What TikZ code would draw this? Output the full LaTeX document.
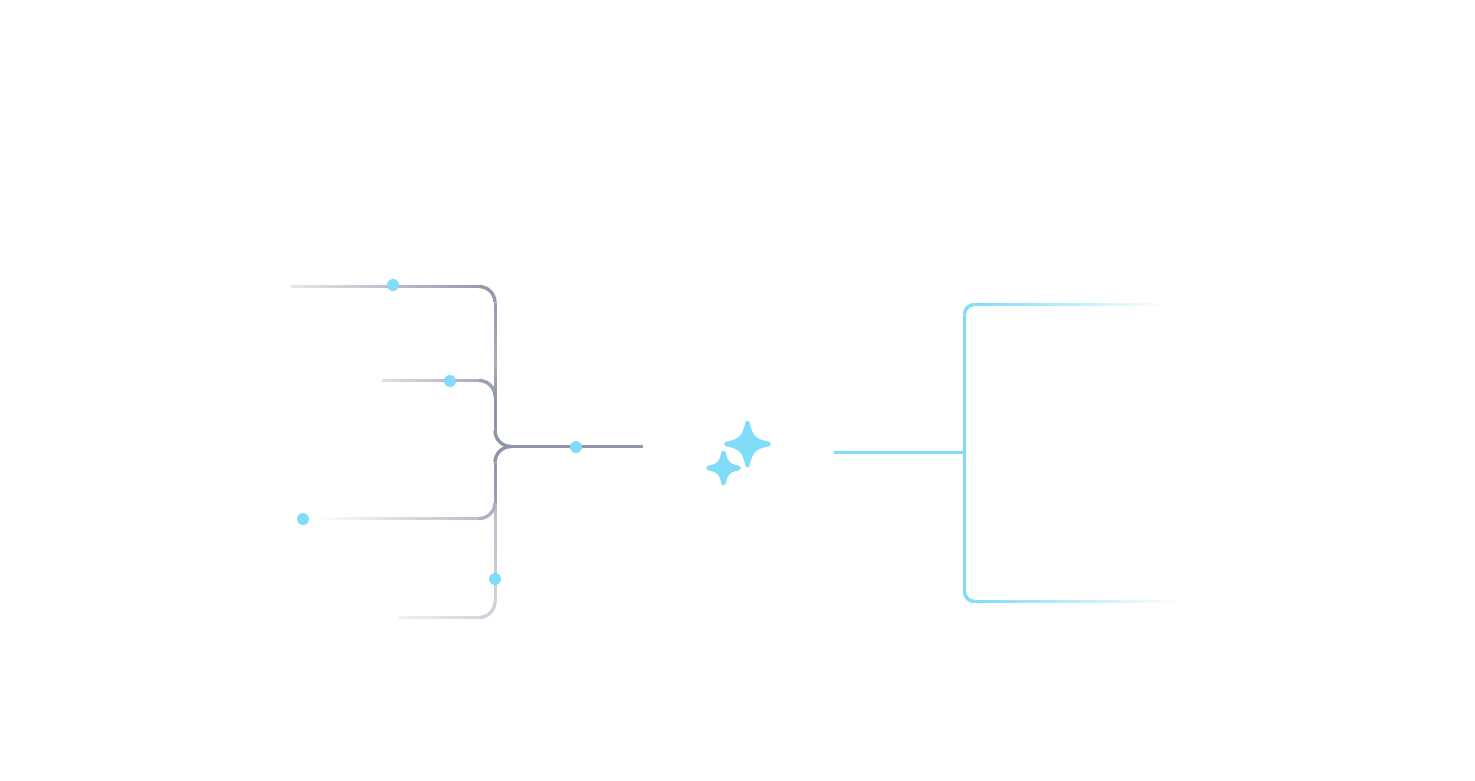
\documentclass[tikz,border=0pt]{standalone}
\definecolor{dotc}{HTML}{80DCF7}
\definecolor{dark}{HTML}{8F95A8}
\definecolor{aA}{HTML}{E6E7EB}
\definecolor{aB}{HTML}{969BAE}
\definecolor{aC}{HTML}{A9ADBC}
\definecolor{bA}{HTML}{E0E1E6}
\definecolor{bB}{HTML}{A8ABBB}
\definecolor{bC}{HTML}{9A9FB1}
\definecolor{cA}{HTML}{9CA1B3}
\definecolor{cB}{HTML}{AEB1C0}
\definecolor{cC}{HTML}{BABDCA}
\definecolor{dA}{HTML}{B9BCCA}
\definecolor{dB}{HTML}{D0D2DB}
\definecolor{dC}{HTML}{D5D6DE}
\definecolor{dD}{HTML}{F0F0F3}
\tikzset{
  dotn/.style={circle,fill=dotc,draw=none,minimum size=12pt,inner sep=0pt}
}
\def\hw{1.5}
\def\ahw{1.7}
% horizontal wire: x1, x2, y, colour at x1, colour at x2
\newcommand{\hgrad}[5]{%
  \foreach \i in {0,...,47}{%
    \pgfmathsetmacro{\pct}{100-(\i+0.5)*100/48}%
    \pgfmathsetmacro{\j}{min(\i+1.3,48)}%
    \fill[color=#4!\pct!#5] ({#1+(#2-#1)*\i/48},#3-\hw) rectangle ({#1+(#2-#1)*\j/48},#3+\hw);
  }}
% vertical wire: x, y1, y2, colour at y1, colour at y2
\newcommand{\vgrad}[5]{%
  \foreach \i in {0,...,47}{%
    \pgfmathsetmacro{\pct}{100-(\i+0.5)*100/48}%
    \pgfmathsetmacro{\j}{min(\i+1.3,48)}%
    \fill[color=#4!\pct!#5] (#1-\hw,{#2+(#3-#2)*\i/48}) rectangle (#1+\hw,{#2+(#3-#2)*\j/48});
  }}
% rounded corner of the wire: centre x, centre y, start angle, end angle, radius, colour
\newcommand{\corner}[6]{%
  \pgfmathsetmacro{\ro}{#5+\ahw}\pgfmathsetmacro{\ri}{#5-\ahw}%
  \fill[color=#6] (#1,#2) ++(#3:\ro pt) arc[start angle=#3,end angle=#4,radius=\ro pt]
    -- ++(#4:-2*\ahw pt) arc[start angle=#4,end angle=#3,radius=\ri pt] -- cycle;}
\newcommand{\spark}[3]{\filldraw[dotc,line width=4.4pt,line join=round,shift={(#1,#2)},x=#3pt,y=#3pt]
  (0,-1) .. controls (0.14,-0.32) and (0.32,-0.14) .. (1,0)
  .. controls (0.32,0.14) and (0.14,0.32) .. (0,1)
  .. controls (-0.14,0.32) and (-0.32,0.14) .. (-1,0)
  .. controls (-0.32,-0.14) and (-0.14,-0.32) .. (0,-1) -- cycle;}
\begin{document}
\begin{tikzpicture}[x=1pt,y=-1pt]
\useasboundingbox (0,0) rectangle (1475,780);
% lowest branch
\vgrad{495}{503}{601.5}{dA}{dB}
\corner{479}{601.5}{0}{-90}{16}{dB}
\hgrad{399}{479}{617.5}{dD}{dC}
% third branch
\hgrad{315}{479}{518.5}{white}{cC}
\corner{479}{502.5}{270}{360}{16}{cB}
\vgrad{495}{462.5}{502.5}{dark}{cA}
\corner{511}{462.5}{180}{90}{16}{dark}
% second branch
\hgrad{382}{479}{380.5}{bA}{bB}
\corner{479}{396.5}{90}{0}{16}{bC}
% first branch
\hgrad{291}{479}{286.5}{aA}{aB}
\corner{479}{302.5}{90}{0}{16}{aB}
\vgrad{495}{302.5}{365}{aB}{aC}
\vgrad{495}{365}{397}{aC}{dark}
\vgrad{495}{397}{430.5}{dark}{dark}
\corner{511}{430.5}{180}{270}{16}{dark}
\hgrad{511}{643}{446.5}{dark}{dark}
% dots
\node[dotn] (d1) at (393,285) {};
\node[dotn] (d2) at (450,381) {};
\node[dotn] (d3) at (303,519) {};
\node[dotn] (d4) at (495,579) {};
\node[dotn] (d5) at (576,447) {};
% sparkles
\spark{747.5}{444}{21.3}
\spark{723.5}{468}{15.3}
% right bracket
\hgrad{834}{964.5}{452.5}{dotc}{dotc}
\vgrad{964.5}{314.5}{591.5}{dotc}{dotc}
\corner{974.5}{314.5}{90}{180}{10}{dotc}
\corner{974.5}{591.5}{180}{270}{10}{dotc}
\hgrad{974.5}{1170}{304.5}{dotc}{white}
\hgrad{974.5}{1182}{601.5}{dotc}{white}
\end{tikzpicture}
\end{document}
